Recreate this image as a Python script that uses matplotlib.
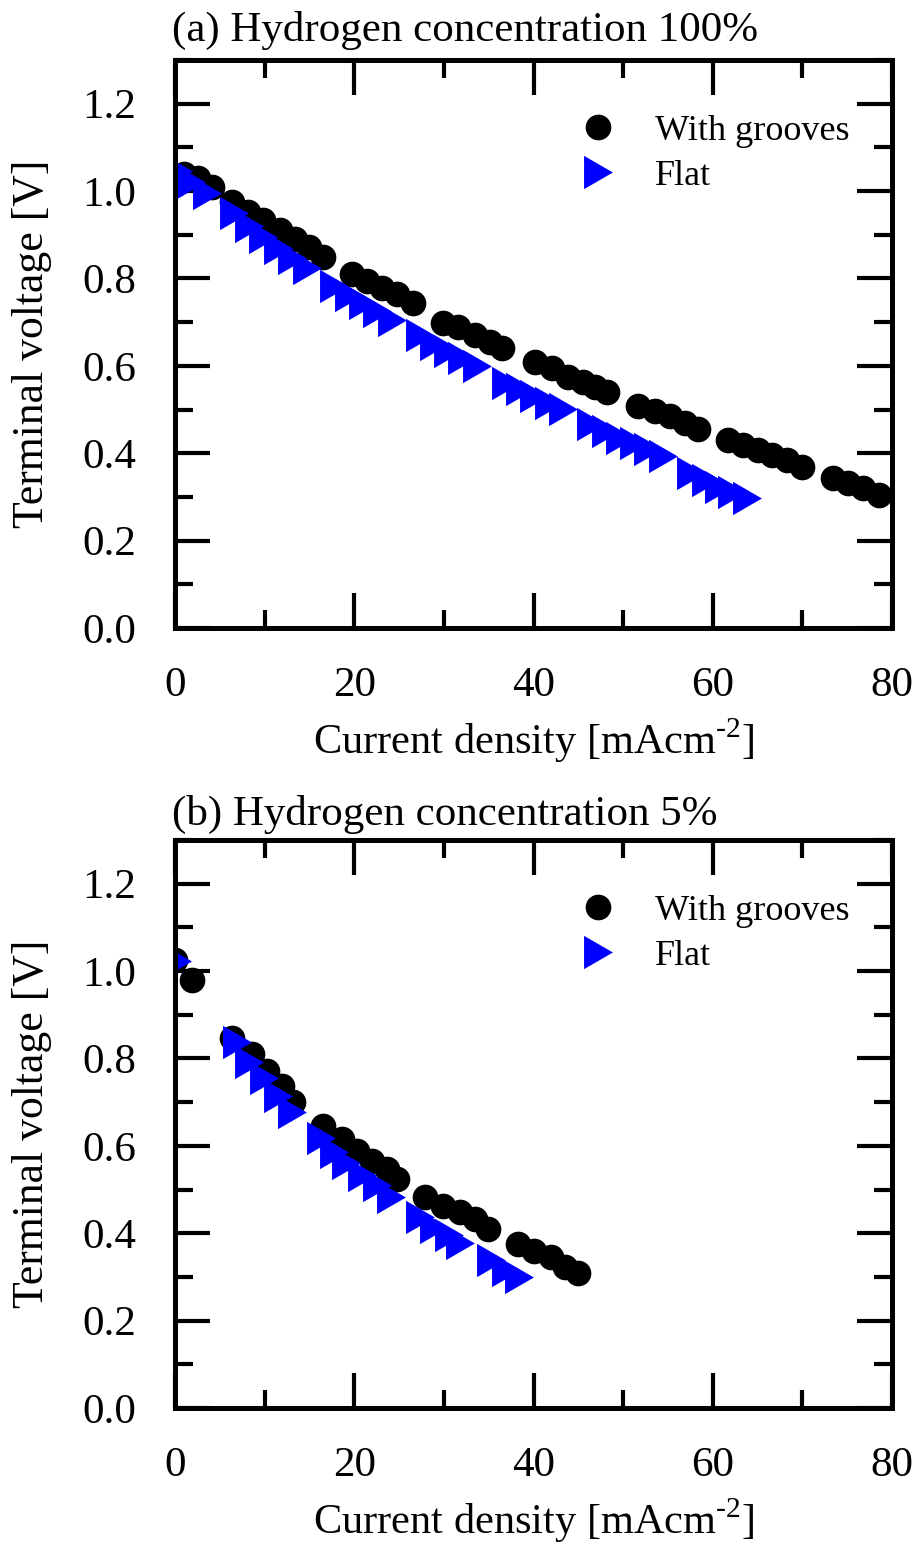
import matplotlib
matplotlib.use("Agg")
import matplotlib.pyplot as plt
from matplotlib.ticker import MultipleLocator

plt.rcParams['font.family'] = ['Liberation Serif', 'DejaVu Serif']
plt.rcParams['mathtext.fontset'] = 'custom'
plt.rcParams['mathtext.rm'] = 'Liberation Serif'

# (a) hydrogen 100 %
a_groove_x = [1.0, 2.6, 4.1, 6.4, 8.1, 9.8, 11.7, 13.4, 15.0, 16.5,
              19.8, 21.4, 23.1, 24.8, 26.6,
              29.9, 31.6, 33.5, 35.2, 36.5,
              40.2, 42.1, 43.8, 45.5, 46.9, 48.2,
              51.7, 53.6, 55.2, 56.9, 58.3,
              61.7, 63.4, 65.0, 66.6, 68.3, 70.0,
              73.4, 75.1, 76.8, 78.5]
a_groove_y = [1.04, 1.03, 1.01, 0.974, 0.951, 0.933, 0.910, 0.891, 0.871, 0.848,
              0.811, 0.795, 0.779, 0.765, 0.743,
              0.699, 0.688, 0.670, 0.654, 0.640,
              0.608, 0.595, 0.574, 0.562, 0.551, 0.539,
              0.507, 0.496, 0.485, 0.469, 0.455,
              0.430, 0.418, 0.407, 0.395, 0.384, 0.368,
              0.343, 0.331, 0.320, 0.304]
a_flat_x = [0.3, 1.8, 3.6,
            6.6, 8.3, 9.8, 11.5, 13.1, 14.7,
            17.7, 19.4, 21.0, 22.5, 24.2,
            27.3, 28.9, 30.5, 32.0, 33.7,
            36.9, 38.5, 40.1, 41.7, 43.3,
            46.4, 48.1, 49.6, 51.2, 52.8, 54.4,
            57.6, 59.2, 60.7, 62.2, 63.8]
a_flat_y = [1.045, 1.02, 0.995,
            0.949, 0.919, 0.896, 0.869, 0.846, 0.823,
            0.782, 0.763, 0.743, 0.725, 0.706,
            0.670, 0.651, 0.633, 0.617, 0.599,
            0.560, 0.546, 0.530, 0.514, 0.501,
            0.466, 0.451, 0.435, 0.423, 0.409, 0.393,
            0.354, 0.338, 0.322, 0.311, 0.297]

# (b) hydrogen 5 %
b_groove_x = [0.0, 1.9,
              6.4, 8.6, 10.3, 11.9, 13.2,
              16.5, 18.6, 20.3, 22.0, 23.7, 24.8,
              27.9, 29.9, 31.8, 33.5, 34.9,
              38.3, 40.0, 41.9, 43.5, 45.0]
b_groove_y = [1.025, 0.979,
              0.846, 0.811, 0.772, 0.738, 0.701,
              0.646, 0.616, 0.589, 0.566, 0.547, 0.524,
              0.483, 0.462, 0.448, 0.432, 0.409,
              0.375, 0.359, 0.345, 0.322, 0.310]
b_flat_x = [0.2,
            6.9, 8.3, 9.9, 11.5, 13.1,
            16.3, 17.7, 19.1, 20.9, 22.5, 24.1,
            27.3, 28.9, 30.6, 31.8,
            35.3, 36.9, 38.4]
b_flat_y = [1.023,
            0.837, 0.793, 0.756, 0.713, 0.678,
            0.618, 0.586, 0.561, 0.533, 0.510, 0.483,
            0.437, 0.414, 0.395, 0.377,
            0.338, 0.315, 0.299]

titles = ["(a) Hydrogen concentration 100%", "(b) Hydrogen concentration 5%"]

tri = [(-0.5, -0.577), (-0.5, 0.577), (0.5, 0.0)]

fig = plt.figure(figsize=(9.2, 15.46), dpi=100)
ax1 = fig.add_axes([175/920, 1-628/1546, 717/920, 568/1546])
ax2 = fig.add_axes([175/920, 1-1408/1546, 717/920, 568/1546])

panels = [(ax1, a_groove_x, a_groove_y, a_flat_x, a_flat_y, 30),
          (ax2, b_groove_x, b_groove_y, b_flat_x, b_flat_y, 814)]

for i, (ax, gx, gy, fx, fy, ty) in enumerate(panels):
    ax.plot(gx, gy, 'o', color='black', markersize=18.5, markeredgewidth=0,
            label='With grooves')
    ax.plot(fx, fy, marker=tri, linestyle='none', color='#0000ff',
            markersize=24, markeredgewidth=0, label='Flat')
    ax.set_xlim(0, 80)
    ax.set_ylim(0, 1.3)
    ax.xaxis.set_major_locator(MultipleLocator(20))
    ax.xaxis.set_minor_locator(MultipleLocator(10))
    ax.yaxis.set_major_locator(MultipleLocator(0.2))
    ax.yaxis.set_minor_locator(MultipleLocator(0.1))
    ax.yaxis.set_major_formatter(plt.FormatStrFormatter('%.1f'))
    ax.tick_params(which='both', direction='in', top=True, right=True,
                   labelsize=31, width=3)
    ax.tick_params(which='major', length=25, pad=28)
    ax.tick_params(which='minor', length=13)
    for s in ax.spines.values():
        s.set_linewidth(3.6)
    ax.set_xlabel(r"Current density [mAcm$^{\text{-2}}$]", fontsize=30.5,
                  labelpad=8)
    ax.set_ylabel("Terminal voltage [V]", fontsize=31.5, labelpad=22)
    ax.legend(loc='upper left', bbox_to_anchor=(0.539, 0.936), frameon=False,
              fontsize=26, handlelength=1.0, handletextpad=1.1,
              labelspacing=0.32, borderpad=0, numpoints=1)
    fig.text(172/920, 1-ty/1546, titles[i], fontsize=31, va='center', ha='left')

fig.savefig("out.png", dpi=100)
